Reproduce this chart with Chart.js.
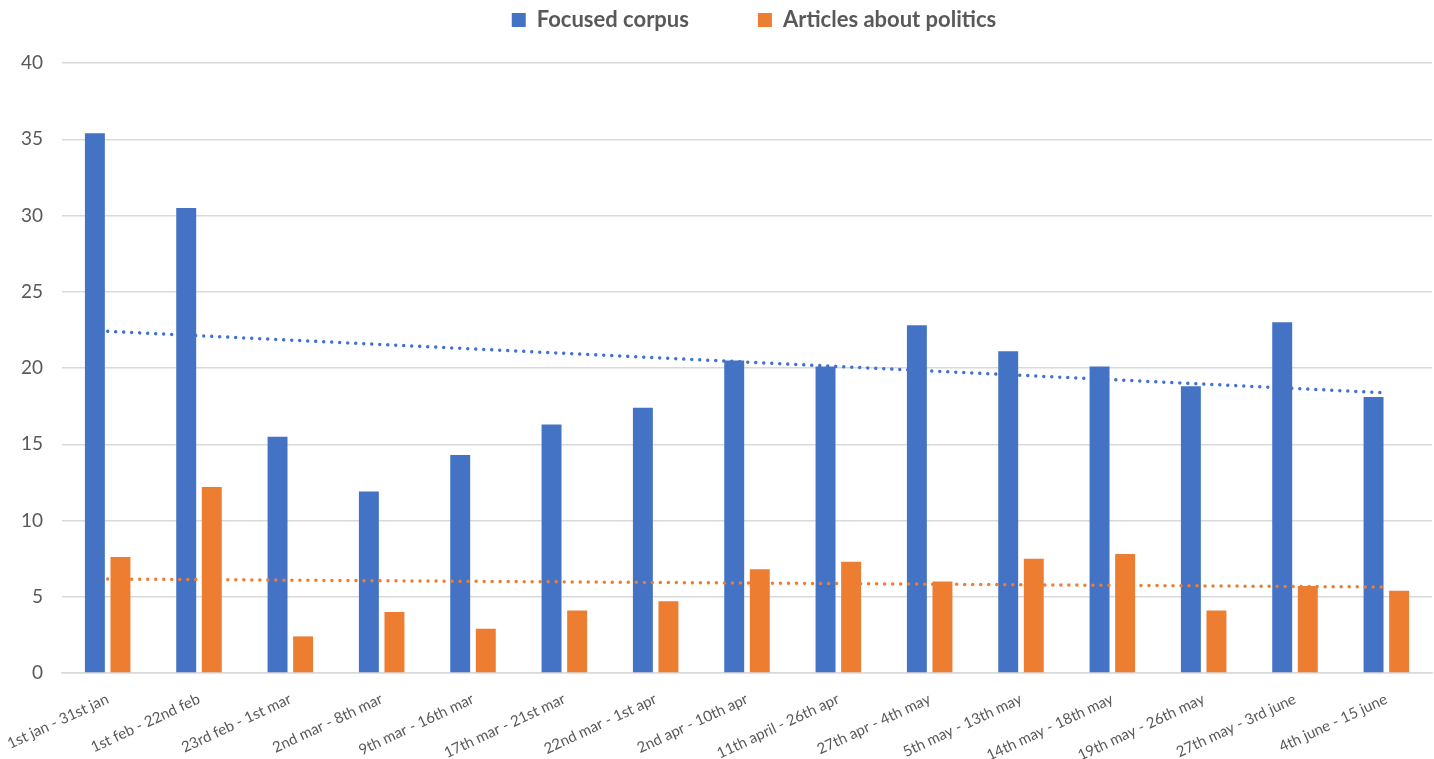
<!DOCTYPE html>
<html>
<head>
<meta charset="utf-8">
<script src="https://cdn.jsdelivr.net/npm/chart.js@4/dist/chart.umd.min.js"></script>
<style>
  html, body { margin: 0; padding: 0; background: #ffffff; }
  #wrap { width: 1434px; height: 759px; }
</style>
</head>
<body>
<div id="wrap"><canvas id="chart"></canvas></div>
<script>
// Periods and counts for both corpora
const periods = [
    '1st jan - 31st jan', '1st feb - 22nd feb', '23rd feb - 1st mar', '2nd mar - 8th mar',
    '9th mar - 16th mar', '17th mar - 21st mar', '22nd mar - 1st apr', '2nd apr - 10th apr',
    '11th april - 26th apr', '27th apr - 4th may', '5th may - 13th may', '14th may - 18th may',
    '19th may - 26th may', '27th may - 3rd june', '4th june - 15 june'
];
const focusedCorpus = [35.4, 30.5, 15.5, 11.9, 14.3, 16.3, 17.4, 20.5, 20.1, 22.8, 21.1, 20.1, 18.8, 23.0, 18.1];
const politicsArticles = [7.6, 12.2, 2.4, 4.0, 2.9, 4.1, 4.7, 6.8, 7.3, 6.0, 7.5, 7.8, 4.1, 5.7, 5.4];
const yTicks = [0, 5, 10, 15, 20, 25, 30, 35, 40];

const BLUE = '#4472c4';
const ORANGE = '#ed7d31';
const FONT = 'Lato, "Open Sans", sans-serif';

// legend padding doubles as the gap between items, so the box height is fixed by hand
const LEGEND_HEIGHT = 123;
const LEGEND_SHIFT = 37;
const X_AXIS_HEIGHT = 86;
const Y_AXIS_WIDTH = 60;

// Least squares trend, returned as its two end points
function trendEnds(values) {
    const n = values.length;
    let sx = 0, sy = 0, sxy = 0, sxx = 0;
    values.forEach((v, i) => { sx += i; sy += v; sxy += i * v; sxx += i * i; });
    const slope = (n * sxy - sx * sy) / (n * sxx - sx * sx);
    const icpt = (sy - slope * sx) / n;
    return [
        { x: periods[0], y: icpt },
        { x: periods[n - 1], y: icpt + slope * (n - 1) }
    ];
}

function trendDataset(values, color) {
    return {
        type: 'line',
        label: 'trend',
        data: trendEnds(values),
        borderColor: color,
        borderWidth: 3.5,
        borderDash: [0.01, 8],
        borderCapStyle: 'round',
        pointRadius: 0,
        fill: false,
        order: 0
    };
}

const legendFit = {
    id: 'legendFit',
    afterInit(chart) {
        const legend = chart.legend;
        const fit = legend.fit;
        legend.fit = function () {
            fit.call(this);
            this.height = LEGEND_HEIGHT;
        };
    },
    afterLayout(chart) {
        // centre the legend over the plot area rather than the whole canvas
        chart.legend.left += LEGEND_SHIFT;
        chart.legend.right += LEGEND_SHIFT;
    }
};

const chart = new Chart(document.getElementById('chart'), {
    type: 'bar',
    data: {
        labels: periods,
        datasets: [
            {
                label: 'Focused corpus',
                data: focusedCorpus,
                backgroundColor: BLUE,
                categoryPercentage: 0.56,
                barPercentage: 0.78,
                order: 1
            },
            {
                label: 'Articles about politics',
                data: politicsArticles,
                backgroundColor: ORANGE,
                categoryPercentage: 0.56,
                barPercentage: 0.78,
                order: 1
            },
            trendDataset(focusedCorpus, BLUE),
            trendDataset(politicsArticles, ORANGE)
        ]
    },
    plugins: [legendFit],
    options: {
        animation: false,
        responsive: true,
        maintainAspectRatio: false,
        layout: { padding: { left: 2, right: 2, top: -60, bottom: 0 } },
        plugins: {
            legend: {
                position: 'top',
                labels: {
                    filter: item => item.text !== 'trend',
                    boxWidth: 14,
                    boxHeight: 14,
                    padding: 69,
                    color: '#595959',
                    font: { family: FONT, size: 22, weight: 'bold' }
                }
            },
            tooltip: { enabled: false }
        },
        scales: {
            x: {
                afterFit: scale => {
                    scale.height = X_AXIS_HEIGHT;
                    scale.paddingLeft = 0;
                },
                grid: { display: false },
                border: { color: '#d9d9d9', width: 1.5 },
                ticks: {
                    color: '#595959',
                    padding: 9,
                    font: { family: FONT, size: 15 },
                    minRotation: 25,
                    maxRotation: 25,
                    autoSkip: false
                }
            },
            y: {
                min: 0,
                max: 40,
                afterFit: scale => { scale.width = Y_AXIS_WIDTH; },
                afterBuildTicks: axis => { axis.ticks = yTicks.map(v => ({ value: v })); },
                grid: { color: '#d9d9d9', lineWidth: 1.5, drawTicks: false },
                border: { display: false },
                ticks: {
                    color: '#595959',
                    padding: 19,
                    font: { family: FONT, size: 19 }
                }
            }
        }
    }
});
</script>
</body>
</html>
